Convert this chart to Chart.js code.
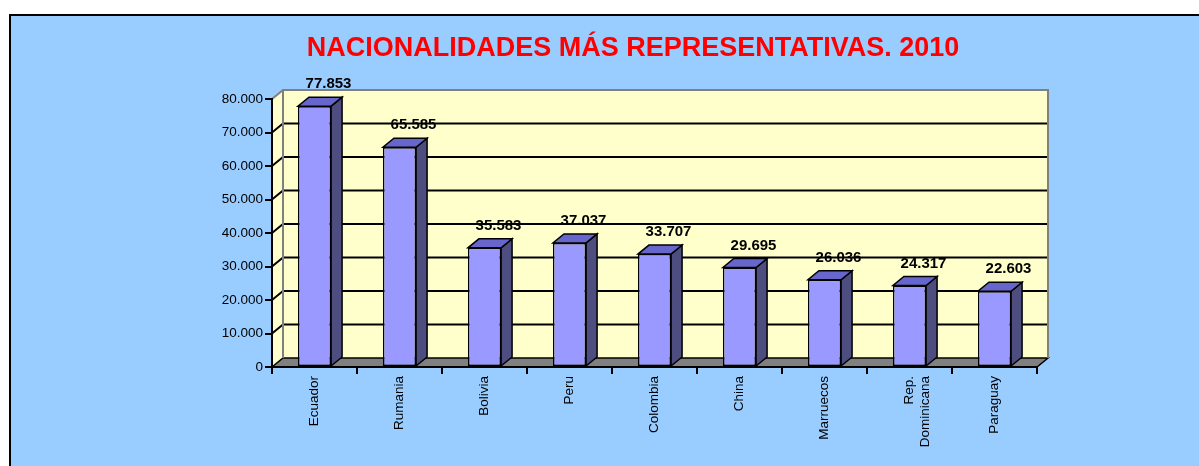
<!DOCTYPE html>
<html lang="es">
<head>
<meta charset="UTF-8">
<title>Nacionalidades más representativas 2010</title>
<script src="https://cdn.jsdelivr.net/npm/chart.js"></script>
<style>
  body { margin: 0; background: #fff; width: 1199px; height: 466px; overflow: hidden; position: relative; }
  .marco { position: absolute; left: 9px; top: 14px; width: 1200px; height: 470px; border: 2px solid #000; background: #99ccff; }
  #grafico { position: absolute; left: 67px; top: 0; }
</style>
</head>
<body>
<div class="marco"></div>
<canvas id="grafico" width="1132" height="466"></canvas>
<script>
const titulo = 'NACIONALIDADES MÁS REPRESENTATIVAS. 2010';
const paises = ['Ecuador', 'Rumania', 'Bolivia', 'Peru', 'Colombia', 'China', 'Marruecos', ['Rep.', 'Dominicana'], 'Paraguay'];
const residentes = [77853, 65585, 35583, 37037, 33707, 29695, 26036, 24317, 22603];
const marcasY = [0, 10000, 20000, 30000, 40000, 50000, 60000, 70000, 80000];

const FUENTE = 'Arial, "Liberation Sans", sans-serif';
const DX = 11, DY = 9; // fondo del efecto 3D

// 77853 -> "77.853"
const miles = v => String(v).replace(/\B(?=(\d{3})+(?!\d))/g, '.');

function poligono(ctx, pts, relleno, borde, grosor) {
  ctx.beginPath();
  pts.forEach(([x, y], i) => i ? ctx.lineTo(x, y) : ctx.moveTo(x, y));
  ctx.closePath();
  if (relleno) { ctx.fillStyle = relleno; ctx.fill(); }
  if (borde) { ctx.strokeStyle = borde; ctx.lineWidth = grosor; ctx.stroke(); }
}

// paredes, suelo y lineas de division al estilo Excel 3D
const paredes = {
  id: 'paredes',
  beforeDraw(chart) {
    const { ctx, chartArea: a, scales: { y } } = chart;
    ctx.save();
    ctx.fillStyle = '#ffffcc';
    ctx.fillRect(a.left + DX, a.top - DY, a.width, a.height);
    poligono(ctx, [[a.left, a.top], [a.left + DX, a.top - DY], [a.left + DX, a.bottom - DY], [a.left, a.bottom]], '#ffffcc');
    poligono(ctx, [[a.left, a.bottom], [a.right, a.bottom], [a.right + DX, a.bottom - DY], [a.left + DX, a.bottom - DY]], '#808080', '#000', 1.5);

    ctx.strokeStyle = '#000';
    ctx.lineWidth = 2;
    marcasY.slice(1, -1).forEach(v => {
      const py = y.getPixelForValue(v);
      ctx.beginPath();
      ctx.moveTo(a.left, py);
      ctx.lineTo(a.left + DX, py - DY);
      ctx.lineTo(a.right + DX, py - DY);
      ctx.stroke();
    });

    ctx.strokeStyle = '#808080';
    ctx.beginPath();
    ctx.moveTo(a.left, a.top);
    ctx.lineTo(a.left + DX, a.top - DY);
    ctx.lineTo(a.right + DX, a.top - DY);
    ctx.lineTo(a.right + DX, a.bottom - DY);
    ctx.moveTo(a.left + DX, a.top - DY);
    ctx.lineTo(a.left + DX, a.bottom - DY);
    ctx.stroke();
    ctx.restore();
  }
};

// caras lateral y superior de cada barra + etiquetas de valor
const barras3d = {
  id: 'barras3d',
  afterDatasetsDraw(chart) {
    const { ctx } = chart;
    ctx.save();
    chart.getDatasetMeta(0).data.forEach((bar, i) => {
      const { x, y: top, base, width } = bar.getProps(['x', 'y', 'base', 'width'], true);
      const l = x - width / 2, r = x + width / 2;
      poligono(ctx, [[r, top], [r + DX, top - DY], [r + DX, base - DY], [r, base]], '#4d4d80', '#000', 1.5);
      poligono(ctx, [[l, top], [r, top], [r + DX, top - DY], [l + DX, top - DY]], '#6666cc', '#000', 1.5);

      ctx.fillStyle = '#000';
      ctx.font = 'bold 15px ' + FUENTE;
      ctx.textAlign = 'center';
      ctx.textBaseline = 'middle';
      ctx.fillText(miles(residentes[i]), x + 14, top - 22);
    });
    ctx.restore();
  }
};

new Chart(document.getElementById('grafico'), {
  type: 'bar',
  data: {
    labels: paises,
    datasets: [{
      data: residentes,
      backgroundColor: '#9999ff',
      borderColor: '#000',
      borderWidth: 1.5,
      borderSkipped: false,
      categoryPercentage: 1,
      barPercentage: 0.39
    }]
  },
  options: {
    responsive: false,
    animation: false,
    layout: { padding: 0 },
    plugins: {
      legend: { display: false },
      tooltip: { enabled: false },
      title: {
        display: true,
        text: titulo,
        color: '#ff0000',
        font: { family: FUENTE, size: 27, weight: 'bold' },
        padding: { top: 32, bottom: 34.6 }
      }
    },
    scales: {
      x: {
        afterFit: s => { s.height = 99; },
        grid: { drawOnChartArea: false, color: '#000', lineWidth: 2, tickLength: 7 },
        border: { color: '#000', width: 2 },
        ticks: { color: '#000', font: { family: FUENTE, size: 13.5 }, maxRotation: 90, minRotation: 90, autoSkip: false, padding: 2 }
      },
      y: {
        min: 0,
        max: 80000,
        afterFit: s => { s.width = 205; },
        afterBuildTicks: s => { s.ticks = marcasY.map(v => ({ value: v })); },
        grid: { drawOnChartArea: false, color: '#000', lineWidth: 2, tickLength: 7 },
        border: { color: '#000', width: 2 },
        ticks: { color: '#000', font: { family: FUENTE, size: 13.5 }, padding: 2, callback: v => miles(v) }
      },
      // margen derecho vacio, para que el titulo quede centrado como en el original
      margenDer: {
        position: 'right',
        afterFit: s => { s.width = 162; },
        grid: { display: false },
        border: { display: false },
        ticks: { display: false }
      }
    }
  },
  plugins: [paredes, barras3d]
});
</script>
</body>
</html>
